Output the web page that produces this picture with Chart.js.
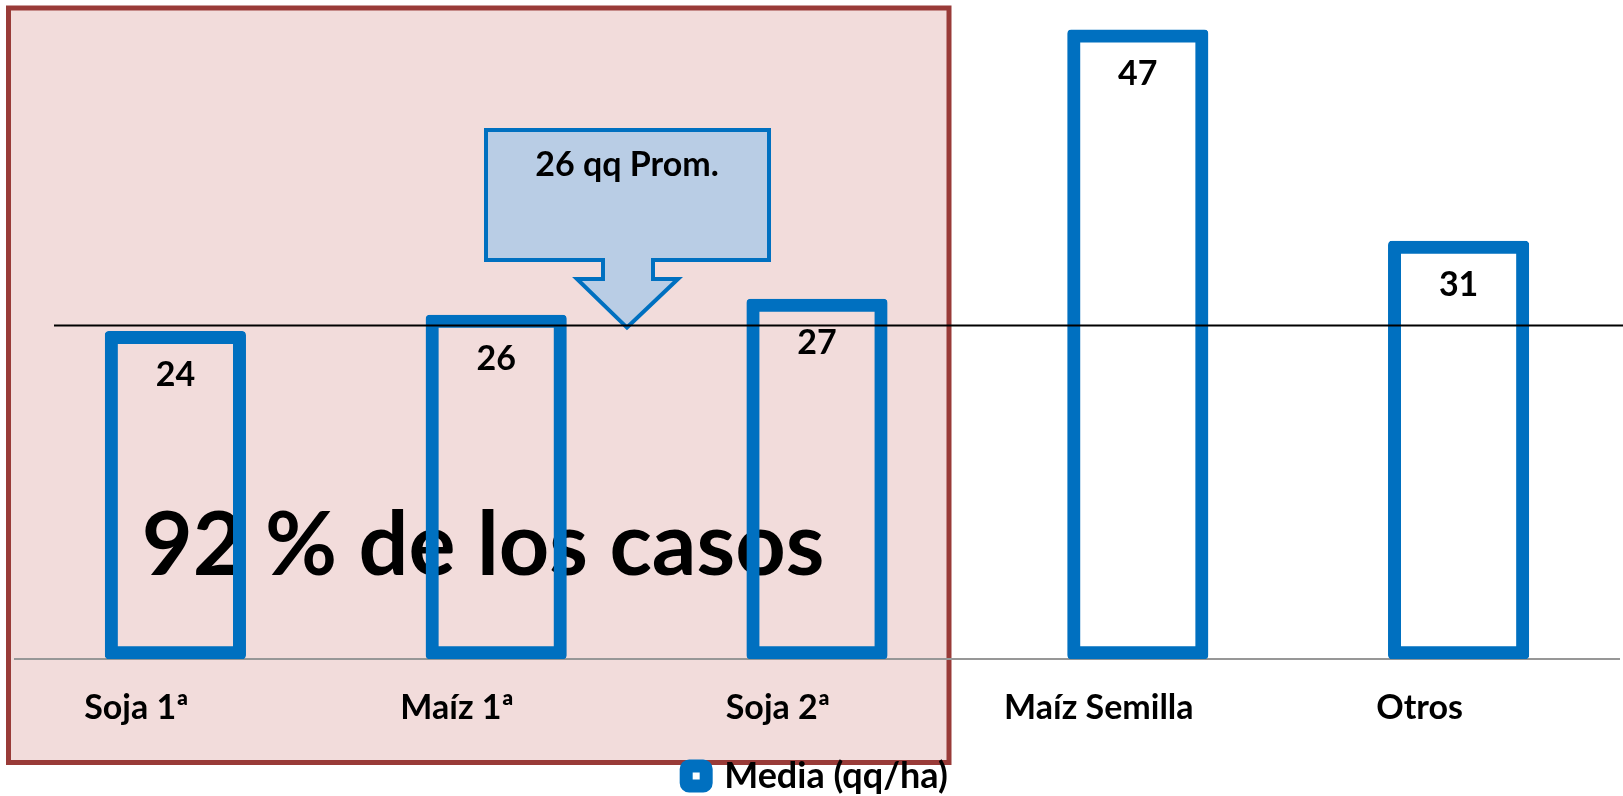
<!DOCTYPE html>
<html><head><meta charset="utf-8">
<script src="https://cdn.jsdelivr.net/npm/chart.js@4.4.0/dist/chart.umd.min.js"></script>
<style>html,body{margin:0;padding:0;background:#fff;overflow:hidden}#wrap{width:1623px;height:796px;position:relative}canvas{display:block}</style>
</head><body><div id="wrap"><canvas id="c" width="1623" height="796"></canvas></div>
<script>
// ---- data ----
const categories = ['Soja 1ª', 'Maíz 1ª', 'Soja 2ª', 'Maíz Semilla', 'Otros'];
const mediaValues = [24.4, 25.6, 26.8, 46.8, 31.1];
const seriesName = 'Media (qq/ha)';
const promedioValue = 24.8;
const promedioText = '26 qq Prom.';
const highlightText = '92 % de los casos';
const yMin = 0;
const yMax = 49;

// ---- styles ----
const FONT = 'Lato, "Open Sans", sans-serif';
const BLUE = '#0070C0';

const overlayPlugin = {
  id: 'overlay',
  beforeDraw(chart) {
    const ctx = chart.ctx;
    ctx.save();
    ctx.fillStyle = '#ffffff';
    ctx.fillRect(0, 0, chart.width, chart.height);
    // highlighted group box
    ctx.fillStyle = '#F2DCDB';
    ctx.fillRect(8.5, 8, 940.5, 754.5);
    ctx.strokeStyle = '#993B38';
    ctx.lineWidth = 5;
    ctx.strokeRect(8.5, 8, 940.5, 754.5);
    // big text
    ctx.fillStyle = '#000';
    ctx.font = 'bold 88px ' + FONT;
    ctx.textAlign = 'center';
    ctx.textBaseline = 'alphabetic';
    ctx.fillText(highlightText, 483, 575);
    ctx.restore();
  },
  afterDatasetsDraw(chart) {
    const ctx = chart.ctx;
    const meta = chart.getDatasetMeta(0);
    ctx.save();
    // value labels
    ctx.fillStyle = '#000';
    ctx.font = 'bold 34px ' + FONT;
    ctx.textAlign = 'center';
    ctx.textBaseline = 'alphabetic';
    meta.data.forEach((bar, i) => {
      ctx.fillText(String(Math.round(mediaValues[i])), bar.x, bar.y + 55);
    });
    // callout
    const yPix = chart.scales.y.getPixelForValue(promedioValue);
    const tipY = yPix + 2;
    ctx.beginPath();
    ctx.moveTo(486, 130);
    ctx.lineTo(769, 130);
    ctx.lineTo(769, 260);
    ctx.lineTo(653, 260);
    ctx.lineTo(653, 279);
    ctx.lineTo(678, 279);
    ctx.lineTo(627, tipY);
    ctx.lineTo(577, 279);
    ctx.lineTo(603, 279);
    ctx.lineTo(603, 260);
    ctx.lineTo(486, 260);
    ctx.closePath();
    ctx.fillStyle = '#B9CDE5';
    ctx.fill();
    ctx.lineWidth = 4;
    ctx.lineJoin = 'miter';
    ctx.strokeStyle = BLUE;
    ctx.stroke();
    ctx.fillStyle = '#000';
    ctx.fillText(promedioText, 627, 176);
    // mean line
    ctx.beginPath();
    ctx.moveTo(54, yPix);
    ctx.lineTo(chart.width, yPix);
    ctx.lineWidth = 2;
    ctx.strokeStyle = '#000';
    ctx.stroke();
    ctx.restore();
  }
};

function build() {
  Chart.defaults.font.family = FONT;
  Chart.defaults.color = '#000';
  new Chart(document.getElementById('c'), {
    type: 'bar',
    data: {
      labels: categories,
      datasets: [{
        label: seriesName,
        data: mediaValues,
        backgroundColor: 'rgba(0,0,0,0)',
        borderColor: BLUE,
        borderWidth: 13,
        borderSkipped: false,
        borderRadius: 4,
        categoryPercentage: 1,
        barPercentage: 0.44
      }]
    },
    options: {
      responsive: false,
      animation: false,
      devicePixelRatio: 1,
      layout: { padding: { left: 15, right: 4, top: 0, bottom: -8 } },
      scales: {
        x: {
          grid: { display: false, drawTicks: false },
          border: { display: true, color: '#979797', width: 2 },
          ticks: { font: { size: 34, weight: 'bold' }, color: '#000', padding: 28, labelOffset: -39 }
        },
        y: { display: false, min: yMin, max: yMax }
      },
      plugins: {
        legend: {
          position: 'bottom',
          labels: {
            font: { size: 36, weight: 'bold' }, color: '#000',
            boxWidth: 20, boxHeight: 20, padding: 2,
            useBorderRadius: true, borderRadius: 3
          }
        },
        tooltip: { enabled: false }
      }
    },
    plugins: [overlayPlugin]
  });
}
if (document.fonts && document.fonts.load) {
  Promise.all([document.fonts.load('bold 34px Lato'), document.fonts.load('bold 88px Lato')]).then(build, build);
} else build();
</script>
</body></html>
